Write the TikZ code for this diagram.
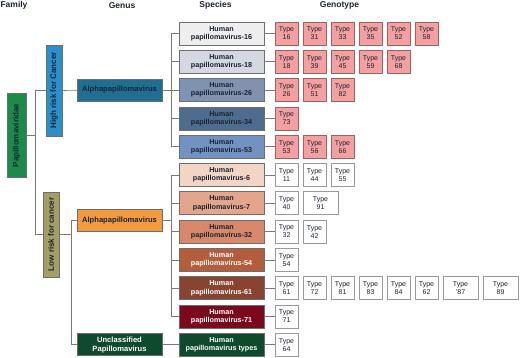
\documentclass[tikz,border=0pt]{standalone}
\usepackage{fontspec}
\setmainfont{Liberation Sans}
\usetikzlibrary{positioning}
\definecolor{pvink}{HTML}{1B2433}
\definecolor{pvedge}{HTML}{6E6E6E}
\definecolor{pvline}{HTML}{7A7A7A}
\definecolor{pvfam}{HTML}{1C8A4B}
\definecolor{pvhighrisk}{HTML}{2B8FCB}
\definecolor{pvlowrisk}{HTML}{A39F64}
\definecolor{pvalphahigh}{HTML}{206F93}
\definecolor{pvalphalow}{HTML}{F39A3F}
\definecolor{pvdarkgreen}{HTML}{0F4A2D}
\definecolor{pvhighfill}{HTML}{F4A0A0}
\definecolor{pvhighedge}{HTML}{9B6464}
\definecolor{pvlowfill}{HTML}{FFFFFF}
\definecolor{pvlowedge}{HTML}{9A9A9A}
\definecolor{pvs16}{HTML}{EEEEEE}
\definecolor{pvs18}{HTML}{D5D8E0}
\definecolor{pvs26}{HTML}{7F93B0}
\definecolor{pvs34}{HTML}{4E6C8E}
\definecolor{pvs53}{HTML}{7292C2}
\definecolor{pvs6}{HTML}{F3D5C5}
\definecolor{pvs7}{HTML}{E3A58C}
\definecolor{pvs32}{HTML}{D9896B}
\definecolor{pvs54}{HTML}{B35D3C}
\definecolor{pvs61}{HTML}{884331}
\definecolor{pvs71}{HTML}{7A0A1B}
\tikzset{
  pv head/.style={font=\fontsize{8.5}{9}\selectfont\bfseries, text=pvink},
  pv box/.style={draw=pvedge, line width=0.6pt, outer sep=0pt, minimum height=23pt,
    inner sep=1pt, align=center, font=\fontsize{7.2}{8.2}\selectfont\bfseries, text=pvink},
  pv species/.style={pv box, minimum width=85pt},
  pv genus/.style={pv box, minimum width=85pt, minimum height=22pt,
    font=\fontsize{7.6}{8.6}\selectfont\bfseries},
  pv rank/.style={pv box, rotate=90, minimum height=16pt,
    font=\fontsize{8}{9}\selectfont\bfseries},
  pv type/.style={draw=pv#1edge, fill=pv#1fill, line width=0.6pt, outer sep=0pt,
    minimum width=23pt, minimum height=23pt, inner sep=1pt, align=center,
    font=\fontsize{7}{8}\selectfont, text=pvink},
  pv wide/.style={minimum width=35pt},
  pv link/.style={draw=pvline, line width=0.7pt}
}
\begin{document}
\begin{tikzpicture}[x=1pt, y=-1pt]
  \useasboundingbox (0,0) rectangle (520,358);
  % column titles
  \node[pv head] (hfam) at (14,5.5) {Family};
  \node[pv head] (hgen) at (122,5.5) {Genus};
  \node[pv head] (hspe) at (215.5,5.5) {Species};
  \node[pv head] (hgeno) at (339.5,5.5) {Genotype};

  % family and risk groups
  \node[pv rank, fill=pvfam, minimum width=84pt, minimum height=19pt] (fam) at (16.5,135.5) {Papillomaviridae};
  \node[pv rank, fill=pvhighrisk, minimum width=91pt] (high) at (54,90.5) {High risk for Cancer};
  \node[pv rank, fill=pvlowrisk, minimum width=85pt] (low) at (51,234.5) {Low risk for cancer};

  % species
  \node[pv species, fill=pvs16] (s16) at (221.5,33.5) {Human\\papillomavirus-16};
  \node[pv species, fill=pvs18, below=5.3pt of s16] (s18) {Human\\papillomavirus-18};
  \node[pv species, fill=pvs26, below=5.3pt of s18] (s26) {Human\\papillomavirus-26};
  \node[pv species, fill=pvs34, below=5.3pt of s26] (s34) {Human\\papillomavirus-34};
  \node[pv species, fill=pvs53, below=5.3pt of s34] (s53) {Human\\papillomavirus-53};
  \node[pv species, fill=pvs6, below=5.3pt of s53] (s6) {Human\\papillomavirus-6};
  \node[pv species, fill=pvs7, below=5.3pt of s6] (s7) {Human\\papillomavirus-7};
  \node[pv species, fill=pvs32, below=5.3pt of s7] (s32) {Human\\papillomavirus-32};
  \node[pv species, fill=pvs54, text=white, below=5.3pt of s32] (s54) {Human\\papillomavirus-54};
  \node[pv species, fill=pvs61, text=white, below=5.3pt of s54] (s61) {Human\\papillomavirus-61};
  \node[pv species, fill=pvs71, text=white, below=5.3pt of s61] (s71) {Human\\papillomavirus-71};
  \node[pv species, fill=pvdarkgreen, text=white, below=5.3pt of s71] (stypes) {Human\\papillomavirus types};

  % genera
  \node[pv genus, fill=pvalphahigh] (ahigh) at (119.5,90) {Alphapapillomavirus};
  \node[pv genus, fill=pvalphalow] (alow) at (119.5,220.5) {Alphapapillomavirus};
  \node[pv genus, fill=pvdarkgreen, text=white, left=17pt of stypes] (uncl) {Unclassified\\Papillomavirus};

  % genotypes
  \foreach \s/\k/\l in {16/high/{16,31,33,35,52,58}, 18/high/{18,39,45,59,68},
      26/high/{26,51,82}, 34/high/{73}, 53/high/{53,56,66}, 6/low/{11,44,55},
      7/low/{40}, 32/low/{32,42}, 54/low/{54}, 61/low/{61,72,81,83,84,62},
      71/low/{71}, types/low/{64}}{
    \coordinate (t\s-0) at ([xshift=6pt]s\s.east);
    \foreach \t [count=\i, remember=\i as \j (initially 0)] in \l
      \node[pv type=\k, right=5pt of t\s-\j] (t\s-\i) {Type\\\t};
    \draw[pv link] (s\s) -- (t\s-1);
  }
  \node[pv type=low, pv wide, right=5pt of t7-1] (t7-2) {Type\\91};
  \node[pv type=low, pv wide, right=5pt of t61-6] (t61-7) {Type\\'87};
  \node[pv type=low, pv wide, right=5pt of t61-7] (t61-8) {Type\\89};

  % tree connectors
  \draw[pv link] (fam.south) -- ++(9,0) coordinate (famjoin);
  \draw[pv link] (famjoin) |- (high.north);
  \draw[pv link] (famjoin) |- (low.north);
  \draw[pv link] (high) -- (ahigh);
  \draw[pv link] (low.south) -- ++(12,0) coordinate (lowjoin);
  \draw[pv link] (lowjoin) |- (alow.west);
  \draw[pv link] (lowjoin) |- (uncl.west);
  \draw[pv link] (uncl) -- (stypes);
  \draw[pv link] (ahigh.east) -- ++(9,0) coordinate (highjoin);
  \foreach \s in {16,18,26,34,53}
    \draw[pv link] (highjoin) |- (s\s.west);
  \draw[pv link] (alow.east) -- ++(9,0) coordinate (alowjoin);
  \foreach \s in {6,7,32,54,61,71}
    \draw[pv link] (alowjoin) |- (s\s.west);
\end{tikzpicture}
\end{document}
